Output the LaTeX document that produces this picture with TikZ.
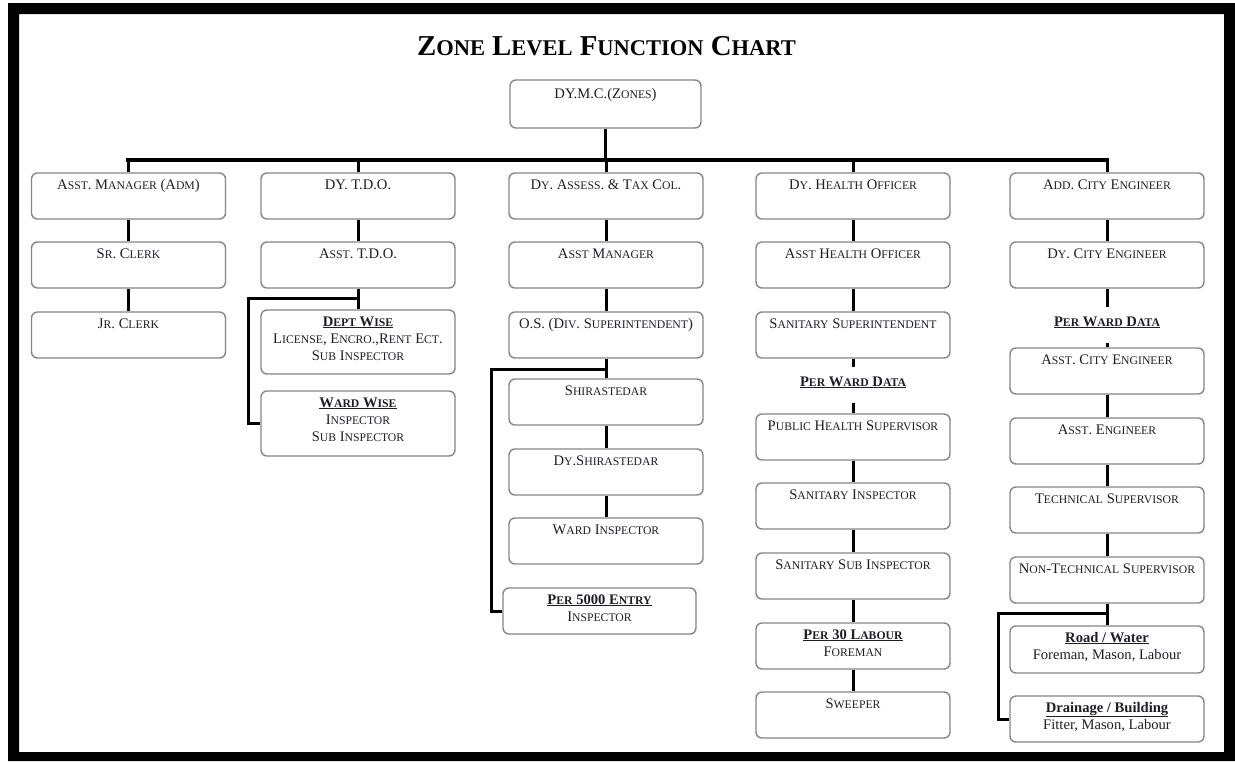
\documentclass[tikz,border=0pt]{standalone}
\usepackage{fontspec}
\setmainfont{Liberation Serif}
\newcommand\smc[1]{{\fontsize{11.7}{17}\selectfont\MakeUppercase{#1}}}
\newcommand\tsmc[1]{{\fontsize{22.5}{30}\selectfont\MakeUppercase{#1}}}
\newcommand\ml[1]{\begin{tabular}[t]{@{}c@{}}#1\end{tabular}}
\definecolor{boxgray}{RGB}{135,135,135}
\definecolor{txtcol}{RGB}{30,30,40}
\begin{document}
\begin{tikzpicture}[x=1pt,y=-1pt,
  box/.style={draw=boxgray, line width=1.4pt, rounded corners=6pt, fill=white,
    minimum width=194pt, inner sep=0pt, text height=16pt, text depth=#1,
    text=txtcol, font=\fontsize{14.6}{17}\selectfont},
  box/.default=30pt,
  lbl/.style={inner sep=0pt, text height=19pt, text depth=16.5pt, anchor=base,
    text=txtcol, font=\bfseries\fontsize{14.6}{17}\selectfont},
  conn/.style={draw=black, line width=3pt, line join=miter},
  busline/.style={draw=black, line width=4.5pt, line cap=rect}]
\useasboundingbox (0,0) rectangle (1235,761);
\fill[white] (0,0) rectangle (1235,761);
\fill[black, even odd rule] (8,3) rectangle (1235,761) (19,14) rectangle (1224,752);

\node[font=\bfseries\fontsize{28.8}{32}\selectfont, anchor=base] (title) at (606.5,55)
  {Z\tsmc{one} L\tsmc{evel} F\tsmc{unction} C\tsmc{hart}};

\node[box=30pt, text height=18pt, minimum width=191pt] (dymc) at (605.5,104) {DY.M.C.(Z\smc{ones})};

% row 1
\node[box] (a1) at (128.5,196) {A\smc{sst}. M\smc{anager} (A\smc{dm})};
\node[box] (b1) at (358,196) {DY. T.D.O.};
\node[box] (c1) at (606,196) {D\smc{y}. A\smc{ssess}. \& T\smc{ax} C\smc{ol}.};
\node[box] (d1) at (853,196) {D\smc{y}. H\smc{ealth} O\smc{fficer}};
\node[box] (e1) at (1107,196) {A\smc{dd}. C\smc{ity} E\smc{ngineer}};

% column a
\node[box] (a2) at (128.5,265) {S\smc{r}. C\smc{lerk}};
\node[box] (a3) at (128.5,335) {J\smc{r}. C\smc{lerk}};

% column b
\node[box] (b2) at (358,265) {A\smc{sst}. T.D.O.};
\node[box=48pt] (b3) at (358,342) {\ml{\textbf{\underline{D\smc{ept} W\smc{ise}}}\\ L\smc{icense}, E\smc{ncro}.,R\smc{ent} E\smc{ct}.\\ S\smc{ub} I\smc{nspector}}};
\node[box=49pt] (b4) at (358,423.5) {\ml{\textbf{\underline{W\smc{ard} W\smc{ise}}}\\ I\smc{nspector}\\ S\smc{ub} I\smc{nspector}}};

% column c
\node[box] (c2) at (606,265) {A\smc{sst} M\smc{anager}};
\node[box] (c3) at (606,335) {O.S. (D\smc{iv}. S\smc{uperintendent})};
\node[box] (c4) at (606,402) {S\smc{hirastedar}};
\node[box] (c5) at (606,472) {D\smc{y}.S\smc{hirastedar}};
\node[box] (c6) at (606,541) {W\smc{ard} I\smc{nspector}};
\node[box, minimum width=193pt] (c7) at (599.5,611) {\ml{\textbf{\underline{P\smc{er} 5000 E\smc{ntry}}}\\ I\smc{nspector}}};

% column d
\node[box] (d2) at (853,265) {A\smc{sst} H\smc{ealth} O\smc{fficer}};
\node[box] (d3) at (853,335) {S\smc{anitary} S\smc{uperintendent}};
\node[lbl] (pwd1) at (853,386) {\underline{P\smc{er} W\smc{ard} D\smc{ata}}};
\node[box] (d4) at (853,437) {P\smc{ublic} H\smc{ealth} S\smc{upervisor}};
\node[box] (d5) at (853,506) {S\smc{anitary} I\smc{nspector}};
\node[box] (d6) at (853,576) {S\smc{anitary} S\smc{ub} I\smc{nspector}};
\node[box] (d7) at (853,646) {\ml{\textbf{\underline{P\smc{er} 30 L\smc{abour}}}\\ F\smc{oreman}}};
\node[box] (d8) at (853,715) {S\smc{weeper}};

% column e
\node[box] (e2) at (1107,265) {D\smc{y}. C\smc{ity} E\smc{ngineer}};
\node[lbl] (pwd2) at (1107,326) {\underline{P\smc{er} W\smc{ard} D\smc{ata}}};
\node[box] (e3) at (1107,371) {A\smc{sst}. C\smc{ity} E\smc{ngineer}};
\node[box] (e4) at (1107,441) {A\smc{sst}. E\smc{ngineer}};
\node[box] (e5) at (1107,510) {T\smc{echnical} S\smc{upervisor}};
\node[box] (e6) at (1107,580) {N\smc{on}-T\smc{echnical} S\smc{upervisor}};
\node[box=31pt] (e7) at (1107,649.5) {\ml{\textbf{\underline{Road / Water}}\\ Foreman, Mason, Labour}};
\node[box] (e8) at (1107,719) {\ml{\textbf{\underline{Drainage / Building}}\\ Fitter, Mason, Labour}};

% connectors
\coordinate (busy) at (606,160);
\draw[conn] (dymc.south) -- (dymc.south |- busy);
\draw[busline] (a1.north |- busy) -- (e1.north |- busy);
\foreach \n in {a1,b1,c1,d1,e1} \draw[conn] (\n.north) -- (\n.north |- busy);

\draw[conn] (a1) -- (a2);
\draw[conn] (a2) -- (a3);

\draw[conn] (b1) -- (b2);
\draw[conn] (b2.south) -- (b3.north);
\draw[conn] (b2.south) -- ++(0,10) -- ++(-110,0) |- (b4.west);

\draw[conn] (c1) -- (c2);
\draw[conn] (c2) -- (c3);
\draw[conn] (c3) -- (c4);
\draw[conn] (c4) -- (c5);
\draw[conn] (c5) -- (c6);
\draw[conn] (c3.south) -- ++(0,11) -- ++(-115,0) |- (c7.west);

\draw[conn] (d1) -- (d2);
\draw[conn] (d2) -- (d3);
\draw[conn] (d3.south) -- (pwd1.north);
\draw[conn] (pwd1.south) -- (d4.north);
\draw[conn] (d4) -- (d5);
\draw[conn] (d5) -- (d6);
\draw[conn] (d6) -- (d7);
\draw[conn] (d7) -- (d8);

\draw[conn] (e1) -- (e2);
\draw[conn] (e2.south) -- (pwd2.north);
\draw[conn] (pwd2.south) -- (e3.north);
\draw[conn] (e3) -- (e4);
\draw[conn] (e4) -- (e5);
\draw[conn] (e5) -- (e6);
\draw[conn] (e6) -- (e7);
\draw[conn] (e6.south) -- ++(0,10) -- ++(-109,0) |- (e8.west);
\end{tikzpicture}
\end{document}
